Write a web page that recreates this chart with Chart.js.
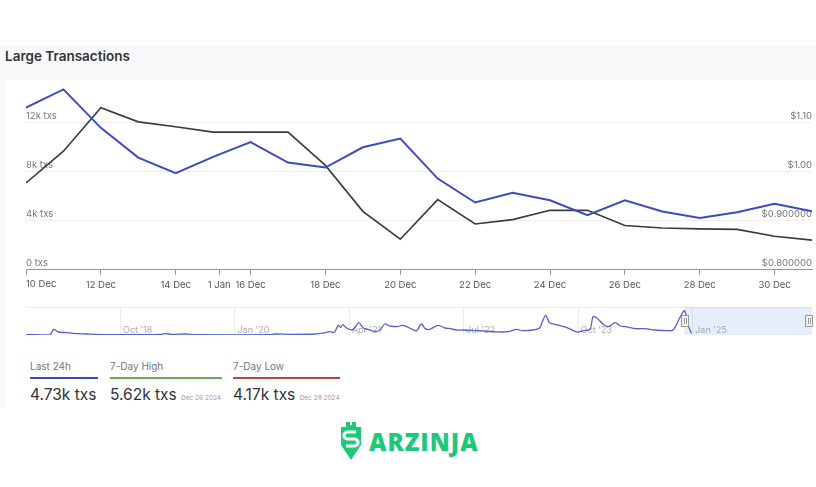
<!DOCTYPE html>
<html>
<head>
<meta charset="utf-8">
<script src="https://cdn.jsdelivr.net/npm/chart.js@4.4.1/dist/chart.umd.min.js"></script>
<style>
  body { margin: 0; width: 816px; height: 487px; background: #fff; font-family: Inter, "Open Sans", sans-serif; position: relative; overflow: hidden; }
  #panel { position: absolute; left: 0; top: 45px; width: 816px; height: 363px; background: #f8f9fa; }
  #card { position: absolute; left: 5px; top: 80px; width: 811px; height: 328px; background: #fff; }
  #title { position: absolute; left: 5px; top: 48px; font-size: 13.5px; font-weight: 600; color: #333; }
  #mainChart { position: absolute; left: 0; top: 80px; }
  #navChart { position: absolute; left: 0; top: 300px; }
  .stat { position: absolute; top: 360px; }
  .stat .lbl { font-size: 10px; color: #777; height: 15px; }
  .stat .bar { height: 2px; margin-top: 2px; }
  .stat .val { font-size: 15.5px; color: #333; margin-top: 6px; white-space: nowrap; }
  .stat .val small { font-size: 6.5px; color: #999; }
  #logo { position: absolute; left: 338px; top: 422px; display: flex; align-items: center; }
  #logo span { font-family: "Open Sans", sans-serif; font-weight: 800; font-size: 24px; color: #1ec87a; letter-spacing: 1px; margin-left: 5px; }
</style>
</head>
<body>
<div id="panel"></div>
<div id="card"></div>
<div id="title">Large Transactions</div>
<canvas id="mainChart" width="816" height="215"></canvas>
<canvas id="navChart" width="816" height="40"></canvas>

<div class="stat" style="left:30px;width:68px">
  <div class="lbl">Last 24h</div><div class="bar" style="background:#3b4cc0"></div>
  <div class="val">4.73k txs</div>
</div>
<div class="stat" style="left:110px;width:112px">
  <div class="lbl">7-Day High</div><div class="bar" style="background:#6aa84f"></div>
  <div class="val">5.62k txs <small>Dec 26 2024</small></div>
</div>
<div class="stat" style="left:233px;width:107px">
  <div class="lbl">7-Day Low</div><div class="bar" style="background:#b5473f"></div>
  <div class="val">4.17k txs <small>Dec 28 2024</small></div>
</div>

<div id="logo">
  <svg width="26" height="38" viewBox="0 0 26 38">
    <path d="M8 0h4v3h2V0h4v5h5v18L13 38 3 23V5h5z" fill="#1ec87a"/>
    <path d="M18 10H9.5a3.5 3.5 0 0 0 0 7h7a3.5 3.5 0 0 1 0 7H8" stroke="#fff" stroke-width="3.2" fill="none"/>
  </svg>
  <span>ARZINJA</span>
</div>

<script>
// daily values, 10 Dec .. 31 Dec
const days = ['10 Dec','11 Dec','12 Dec','13 Dec','14 Dec','15 Dec','16 Dec','17 Dec','18 Dec','19 Dec','20 Dec',
              '21 Dec','22 Dec','23 Dec','24 Dec','25 Dec','26 Dec','27 Dec','28 Dec','29 Dec','30 Dec','31 Dec'];
const largeTxs = [13200, 14700, 11550, 9120, 7840, 9170, 10390, 8710, 8300, 9960, 10670,
                  7400, 5440, 6230, 5630, 4410, 5620, 4710, 4170, 4650, 5330, 4730];
const price = [0.976, 1.041, 1.130, 1.101, 1.091, 1.080, 1.080, 1.080, 1.012, 0.918, 0.861,
               0.942, 0.892, 0.901, 0.920, 0.920, 0.889, 0.884, 0.882, 0.881, 0.867, 0.859];

// x axis ticks (day index from 10 Dec) and their labels
const xTickPos = [0, 2, 4, 5.16, 6, 8, 10, 12, 14, 16, 18, 20];
const xTickLabels = ['10 Dec','12 Dec','14 Dec','1 Jan','16 Dec','18 Dec','20 Dec','22 Dec','24 Dec','26 Dec','28 Dec','30 Dec'];
const txTicks = [0, 4000, 8000, 12000];
const txTickLabels = ['0 txs', '4k txs', '8k txs', '12k txs'];
const priceTicks = [0.8, 0.9, 1.0, 1.1];
const priceTickLabels = ['$0.800000', '$0.900000', '$1.00', '$1.10'];

// navigator: months since Jan 2017, large txs (k)
const navMonths = [8.7, 11.8, 12.3, 12.9, 14.0, 14.8, 16.6, 18.8, 23.6, 26.2, 26.9, 27.8, 29.7, 30.8, 40.7, 41.3, 43.3, 46.6,
  47.9, 48.5, 49.1, 49.6, 49.9, 50.2, 50.7, 51.4, 51.8, 52.3, 52.9, 53.5, 54.4, 55.1, 55.7, 56.4, 57.3, 58.0, 58.6, 59.3,
  59.9, 60.5, 61.0, 61.6, 62.7, 63.6, 64.3, 65.1, 66.0, 67.8, 69.5, 71.2, 72.1, 73.0, 73.8, 75.1, 76.0, 76.4, 76.8, 77.3,
  78.2, 79.5, 80.9, 81.7, 82.6, 83.0, 83.5, 84.3, 85.0, 85.9, 86.6, 87.2, 88.5, 89.8, 91.1, 92.7, 93.5, 94.4, 95.0, 95.4, 95.9];
const navValues = [0.2, 0.2, 3.4, 1.8, 1.4, 1.0, 0.6, 0.2, 0.2, 0.3, 0.8, 0.4, 0.6, 0.2, 0.2, 0.6, 0.4, 0.6,
  1.4, 2.0, 1.6, 5.8, 4.6, 6.2, 4.2, 3.0, 4.6, 7.4, 4.2, 3.4, 2.2, 3.0, 6.6, 5.4, 5.0, 5.8, 5.0, 3.4,
  2.6, 6.6, 3.8, 3.4, 5.8, 4.2, 3.8, 3.0, 3.0, 2.6, 2.2, 1.8, 2.2, 3.4, 2.6, 3.0, 4.2, 8.6, 11.8, 7.4,
  6.2, 4.6, 1.8, 2.6, 3.4, 11.0, 10.2, 6.6, 5.0, 7.4, 5.4, 5.0, 3.8, 3.8, 3.0, 2.6, 3.0, 10.6, 14.6, 6.6, 1.0];
const navTickMonths = [21, 36, 51, 66, 81, 96];
const navTickLabels = ["Oct '18", "Jan '20", "Apr '21", "Jul '22", "Oct '23", "Jan '25"];
const navSelection = [95.0, 111.7];

const tickFont = { family: 'Inter', size: 9.5 };

// first x label sits left-aligned at the axis start
const firstLabel = {
  id: 'firstLabel',
  afterDraw(chart) {
    const { ctx, scales: { x } } = chart;
    ctx.save();
    ctx.fillStyle = '#555';
    ctx.font = '9.5px Inter';
    ctx.textAlign = 'left';
    ctx.textBaseline = 'top';
    ctx.fillText(xTickLabels[0], x.getPixelForValue(xTickPos[0]), x.top + 6 + 4);
    ctx.restore();
  }
};

new Chart(document.getElementById('mainChart'), {
  type: 'line',
  data: {
    datasets: [{
      data: largeTxs.map((v, i) => ({ x: i, y: v })),
      yAxisID: 'y',
      borderColor: '#3b4cc0',
      borderWidth: 2,
      pointRadius: 0,
      tension: 0
    }, {
      data: price.map((v, i) => ({ x: i, y: v })),
      yAxisID: 'y1',
      borderColor: '#3a3a3a',
      borderWidth: 1.6,
      pointRadius: 0,
      tension: 0
    }]
  },
  options: {
    responsive: false,
    animation: false,
    devicePixelRatio: 1,
    layout: { padding: { left: 26, right: 4, top: 5, bottom: 0 } },
    plugins: { legend: { display: false }, tooltip: { enabled: false } },
    scales: {
      x: {
        type: 'linear', min: 0, max: 21,
        afterBuildTicks: s => { s.ticks = xTickPos.map(v => ({ value: v })); },
        afterFit: s => { s.height = 26; },
        grid: { drawOnChartArea: false, drawTicks: true, tickLength: 6, color: '#999' },
        border: { display: true, color: '#999' },
        ticks: {
          autoSkip: false, maxRotation: 0, padding: 4, color: '#555', font: tickFont,
          callback: (v, i) => i === 0 ? '' : xTickLabels[i]
        }
      },
      y: {
        position: 'left', min: 0, max: 15000,
        afterBuildTicks: s => { s.ticks = txTicks.map(v => ({ value: v })); },
        afterFit: s => { s.width = 0; },
        grid: { color: '#efefef', drawTicks: false },
        border: { display: false },
        ticks: {
          mirror: true, padding: 0, labelOffset: -6, color: '#777', font: tickFont,
          callback: (v, i) => txTickLabels[i]
        }
      },
      y1: {
        position: 'right', min: 0.8, max: 1.175,
        afterBuildTicks: s => { s.ticks = priceTicks.map(v => ({ value: v })); },
        afterFit: s => { s.width = 0; },
        grid: { display: false },
        border: { display: false },
        ticks: {
          mirror: true, padding: 0, labelOffset: -6, color: '#777', font: tickFont,
          callback: (v, i) => priceTickLabels[i]
        }
      }
    }
  },
  plugins: [firstLabel]
});

// navigator decorations
const navDecor = {
  id: 'navDecor',
  beforeDatasetsDraw(chart) {
    const { ctx, chartArea: a, scales: { x } } = chart;
    ctx.save();
    ctx.strokeStyle = '#ececec';
    ctx.lineWidth = 1;
    ctx.beginPath();
    ctx.moveTo(a.left, a.top + 0.5); ctx.lineTo(a.right, a.top + 0.5);
    navTickMonths.forEach(m => {
      const px = Math.round(x.getPixelForValue(m)) + 0.5;
      ctx.moveTo(px, a.top); ctx.lineTo(px, a.bottom);
    });
    ctx.stroke();
    const s0 = x.getPixelForValue(navSelection[0]);
    const s1 = x.getPixelForValue(navSelection[1]);
    ctx.fillStyle = 'rgba(100,150,230,0.16)';
    ctx.fillRect(s0, a.top, s1 - s0, a.bottom - a.top);
    ctx.fillStyle = '#aaa';
    ctx.font = '9px Inter';
    ctx.textBaseline = 'middle';
    navTickMonths.forEach((m, i) => {
      ctx.fillText(navTickLabels[i], x.getPixelForValue(m) + 3, a.bottom - 5);
    });
    ctx.restore();
  },
  afterDatasetsDraw(chart) {
    const { ctx, chartArea: a, scales: { x } } = chart;
    ctx.save();
    const cy = (a.top + a.bottom) / 2;
    navSelection.forEach(m => {
      const px = Math.round(Math.min(x.getPixelForValue(m), a.right - 3));
      ctx.fillStyle = '#f2f2f2';
      ctx.strokeStyle = '#999';
      ctx.lineWidth = 1;
      ctx.fillRect(px - 3.5, cy - 5.5, 7, 11);
      ctx.strokeRect(px - 3.5, cy - 5.5, 7, 11);
      ctx.beginPath();
      ctx.moveTo(px - 0.5, cy - 3); ctx.lineTo(px - 0.5, cy + 3);
      ctx.moveTo(px + 1.5, cy - 3); ctx.lineTo(px + 1.5, cy + 3);
      ctx.stroke();
    });
    ctx.restore();
  }
};

new Chart(document.getElementById('navChart'), {
  type: 'line',
  data: {
    datasets: [{
      data: navMonths.map((m, i) => ({ x: m, y: navValues[i] })),
      borderColor: '#5662c8',
      borderWidth: 1.3,
      pointRadius: 0,
      tension: 0.3
    }]
  },
  options: {
    responsive: false,
    animation: false,
    devicePixelRatio: 1,
    layout: { padding: { left: 26, right: 4, top: 7, bottom: 5 } },
    plugins: { legend: { display: false }, tooltip: { enabled: false } },
    scales: {
      x: { type: 'linear', min: 8.68, max: 111.7, display: false },
      y: { min: 0, max: 16.8, display: false }
    }
  },
  plugins: [navDecor]
});
</script>
</body>
</html>
